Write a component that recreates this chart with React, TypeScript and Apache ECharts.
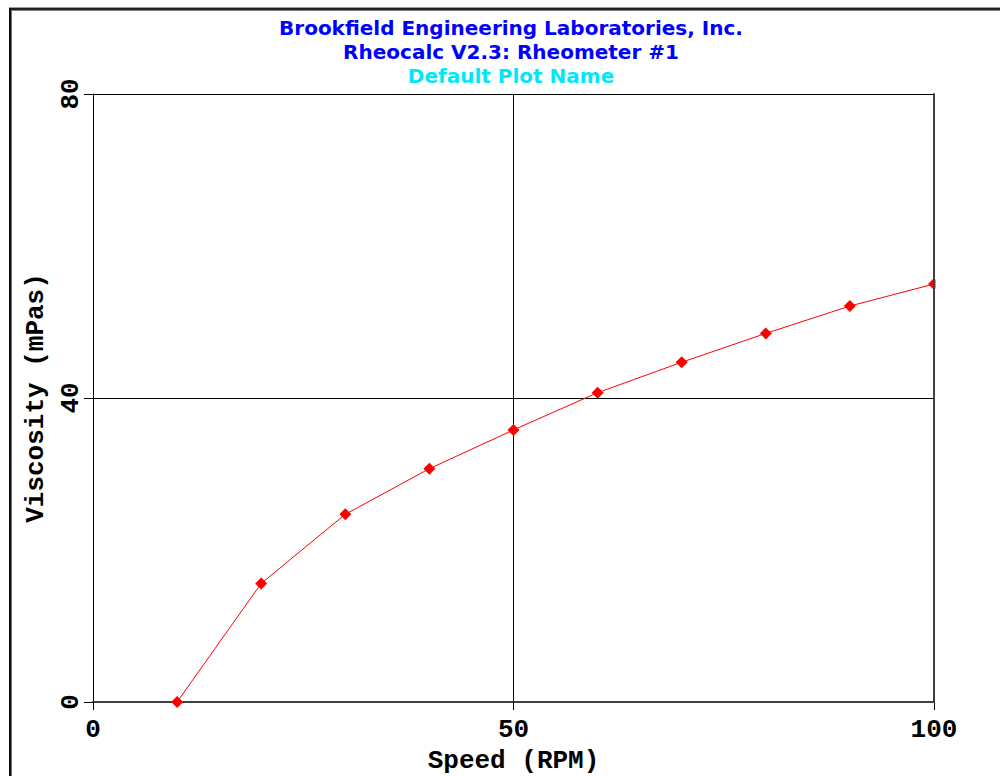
import React, { useEffect, useRef } from "react";
import * as echarts from "echarts";

const titleLines = [
  "Brookfield Engineering Laboratories, Inc.",
  "Rheocalc V2.3: Rheometer #1",
];
const plotName = "Default Plot Name";
const xAxisName = "Speed (RPM)";
const yAxisName = "Viscosity (mPas)";
const speeds = [10, 20, 30, 40, 50, 60, 70, 80, 90, 100];
const viscosity = [0, 15.6, 24.7, 30.7, 35.8, 40.7, 44.7, 48.5, 52.1, 55.0];
const xRange = [0, 100];
const xStep = 50;
const yRange = [0, 80];
const yStep = 40;

const MONO = "'Liberation Mono', 'Courier New', monospace";
const SANS = "'DejaVu Sans', sans-serif";

export default function App() {
  const ref = useRef<HTMLDivElement>(null);
  useEffect(() => {
    if (!ref.current) return;
    const chart = echarts.init(ref.current, null, { renderer: "svg" });
    const monoStyle = {
      fontFamily: MONO,
      fontWeight: "bold" as const,
      fontSize: 26,
      color: "#000",
    };
    chart.setOption({
      animation: false,
      backgroundColor: "#fff",
      grid: { left: 93, top: 94, right: 66, bottom: 74, containLabel: false, outerBoundsMode: "none" },
      graphic: [
        { type: "line", shape: { x1: 9, y1: 7.5, x2: 1000, y2: 7.5 }, style: { stroke: "#a0a0a0", lineWidth: 1 }, z: 20 },
        { type: "line", shape: { x1: 9, y1: 9, x2: 1000, y2: 9 }, style: { stroke: "#202020", lineWidth: 2 }, z: 20 },
        { type: "line", shape: { x1: 11, y1: 10.5, x2: 1000, y2: 10.5 }, style: { stroke: "#808080", lineWidth: 1 }, z: 20 },
        { type: "line", shape: { x1: 10, y1: 8, x2: 10, y2: 776 }, style: { stroke: "#101010", lineWidth: 2 }, z: 20 },
        { type: "line", shape: { x1: 11.5, y1: 10, x2: 11.5, y2: 776 }, style: { stroke: "#707070", lineWidth: 1 }, z: 20 },
        { type: "rect", shape: { x: 935.5, y: 80, width: 50, height: 630 }, style: { fill: "#fff" }, z: 8 },
        {
          type: "text", x: 511, y: 28, z: 20,
          style: { text: titleLines[0], fill: "#0000ff", font: `bold 20px ${SANS}`, textAlign: "center", textVerticalAlign: "middle" },
        },
        {
          type: "text", x: 511, y: 52, z: 20,
          style: { text: titleLines[1], fill: "#0000ff", font: `bold 20px ${SANS}`, textAlign: "center", textVerticalAlign: "middle" },
        },
        {
          type: "text", x: 511, y: 76, z: 20,
          style: { text: plotName, fill: "#00e8f8", font: `bold 20px ${SANS}`, textAlign: "center", textVerticalAlign: "middle" },
        },
      ],
      xAxis: [
        {
          type: "value",
          position: "bottom",
          min: xRange[0],
          max: xRange[1],
          interval: xStep,
          axisLine: { show: true, onZero: false, lineStyle: { color: "#404040", width: 2 } },
          axisTick: { show: true, length: 8, lineStyle: { color: "#000", width: 1 } },
          axisLabel: { ...monoStyle, margin: 15 },
          splitLine: { show: true, showMinLine: false, showMaxLine: false, lineStyle: { color: "#000", width: 1 } },
          name: xAxisName,
          nameLocation: "middle",
          nameGap: 46,
          nameTextStyle: { ...monoStyle, lineHeight: 26 },
        },
        {
          type: "value",
          position: "top",
          min: xRange[0],
          max: xRange[1],
          interval: xStep,
          axisLine: { show: true, onZero: false, lineStyle: { color: "#000", width: 1 } },
          axisTick: { show: false },
          axisLabel: { show: false },
          splitLine: { show: false },
        },
      ],
      yAxis: [
        {
          type: "value",
          position: "left",
          min: yRange[0],
          max: yRange[1],
          interval: yStep,
          axisLine: { show: true, onZero: false, lineStyle: { color: "#000", width: 1 } },
          axisTick: { show: true, length: 9, lineStyle: { color: "#000", width: 1 } },
          axisLabel: { ...monoStyle, rotate: 90, margin: 9 },
          splitLine: { show: true, showMinLine: false, showMaxLine: false, lineStyle: { color: "#000", width: 1 } },
          name: yAxisName,
          nameLocation: "middle",
          nameGap: 44,
          nameRotate: 90,
          nameTextStyle: monoStyle,
        },
        {
          type: "value",
          position: "right",
          min: yRange[0],
          max: yRange[1],
          interval: yStep,
          z: 10,
          axisLine: { show: true, onZero: false, lineStyle: { color: "#404040", width: 2 } },
          axisTick: { show: false },
          axisLabel: { show: false },
          splitLine: { show: false },
        },
      ],
      series: [
        {
          type: "line",
          data: speeds.map((s, i) => [s, viscosity[i]]),
          xAxisIndex: 0,
          yAxisIndex: 0,
          symbol: "diamond",
          symbolSize: 12,
          showAllSymbol: true,
          lineStyle: { color: "#ff0000", width: 1 },
          itemStyle: { color: "#ff0000" },
          z: 2,
        },
      ],
    });
    return () => chart.dispose();
  }, []);
  return (
    <div
      ref={ref}
      style={{ position: "absolute", left: 0, top: 0, width: 1000, height: 776, background: "#fff" }}
    />
  );
}
